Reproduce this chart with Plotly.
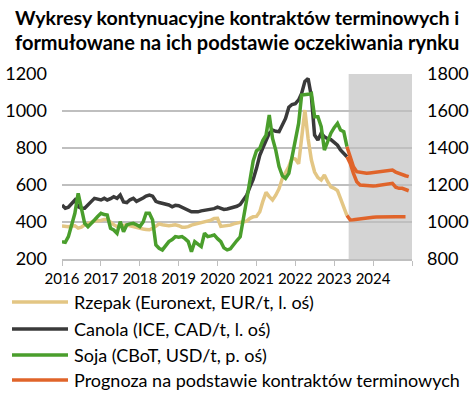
import pandas as pd
import plotly.graph_objects as go

# ---- data ----
hist_dates = pd.date_range("2016-01-01", "2023-05-01", freq="MS")
fc_dates = pd.date_range("2023-05-01", "2024-12-01", freq="MS")

rzepak = [
    378, 376, 375, 378, 380, 367, 372, 385, 390, 398, 405, 405,
    408, 414, 414, 400, 385, 376, 380, 385, 385, 380, 375, 368,
    367, 362, 360, 358, 365, 375, 390, 385, 382, 380, 382, 385,
    380, 372, 372, 375, 383, 388, 392, 395, 400, 404, 410, 419,
    420, 376, 378, 380, 383, 390, 392, 398, 401, 405, 420, 428,
    430, 456, 510, 560, 537, 519, 545, 580, 636, 670, 700, 745,
    740, 715, 870, 1005, 850, 735, 670, 640, 627, 654, 618, 590,
    582, 570, 528, 474, 435,
]
canola = [
    492, 474, 480, 501, 519, 483, 474, 474, 490, 510, 528, 522,
    519, 528, 519, 526, 537, 528, 546, 508, 505, 520, 528, 512,
    519, 530, 540, 546, 540, 512, 505, 500, 495, 492, 482, 490,
    488, 480, 470, 462, 455, 455, 455, 460, 462, 465, 470, 472,
    480, 475, 468, 470, 474, 478, 485, 495, 520, 545, 590, 630,
    690, 760, 800, 840, 880, 897, 890, 888, 925, 960, 1020, 1035,
    1040, 1060, 1095, 1160, 1176, 1077, 870, 843, 880, 860, 850, 845,
    830, 815, 790, 770, 753,
]
soja = [
    894, 890, 921, 990, 1047, 1155, 1083, 993, 975, 990, 1011, 1030,
    1047, 1040, 1038, 966, 957, 939, 1002, 948, 984, 990, 993, 985,
    975, 1000, 1047, 1047, 1011, 876, 858, 849, 870, 894, 905, 921,
    918, 921, 910, 894, 840, 894, 880, 867, 939, 921, 925, 930,
    910, 894, 860, 849, 855, 880, 900, 920, 1010, 1120, 1227, 1330,
    1385, 1398, 1440, 1470, 1578, 1452, 1389, 1300, 1250, 1236, 1263, 1353,
    1440, 1533, 1686, 1686, 1690, 1695, 1569, 1569, 1515, 1389, 1440, 1480,
    1510, 1533, 1497, 1488, 1407,
]
soja_fc = [1407, 1353, 1299, 1272, 1268, 1263, 1263, 1265, 1268, 1270,
           1272, 1275, 1277, 1280, 1281, 1270, 1262, 1255, 1250, 1245]
canola_fc = [753, 717, 663, 618, 600, 598, 596, 594, 594, 596,
             598, 600, 603, 606, 609, 588, 582, 582, 575, 569]
rzepak_fc = [435, 411, 412, 415, 418, 420, 422, 424, 426, 427,
             428, 429, 429, 429, 429, 429, 428, 428, 428]

year_ticks = [f"{y}-01-01" for y in range(2016, 2026)]
year_labels = [str(y) for y in range(2016, 2025)] + [""]
left_ticks = [200, 400, 600, 800, 1000, 1200]
right_ticks = [800, 1000, 1200, 1400, 1600, 1800]

title_lines = [
    "Wykresy kontynuacyjne kontraktów terminowych i",
    "formułowane na ich podstawie oczekiwania rynku",
]
names = [
    "Rzepak (Euronext, EUR/t, l. oś)",
    "Canola (ICE, CAD/t, l. oś)",
    "Soja (CBoT, USD/t, p. oś)",
    "Prognoza na podstawie kontraktów terminowych",
]
forecast_start = "2023-05-17"
x_end = "2025-01-01"

# ---- style ----
FONT = "Lato"
C_RZ = "#E3C684"
C_CA = "#3A3A3A"
C_SO = "#4A9E2C"
C_FC = "#E0642A"
LW = 3.5
W, H = 474, 393
L, R, T, B = 62, 62, 74, 134
PW, PH = W - L - R, H - T - B


def px_x(x):
    return (x - L) / PW


def px_y(y):
    return (H - B - y) / PH


fig = go.Figure()
fig.add_trace(go.Scatter(x=hist_dates, y=rzepak, mode="lines", name=names[0],
                         line=dict(color=C_RZ, width=LW)))
fig.add_trace(go.Scatter(x=hist_dates, y=canola, mode="lines", name=names[1],
                         line=dict(color=C_CA, width=LW)))
fig.add_trace(go.Scatter(x=hist_dates, y=soja, mode="lines", name=names[2],
                         yaxis="y2", line=dict(color=C_SO, width=LW)))
fig.add_trace(go.Scatter(x=fc_dates, y=soja_fc, mode="lines", name=names[3],
                         yaxis="y2", line=dict(color=C_FC, width=LW)))
fig.add_trace(go.Scatter(x=fc_dates, y=canola_fc, mode="lines", name=names[3],
                         line=dict(color=C_FC, width=LW)))
fig.add_trace(go.Scatter(x=fc_dates[:len(rzepak_fc)], y=rzepak_fc, mode="lines",
                         name=names[3], line=dict(color=C_FC, width=LW)))

fig.add_shape(type="rect", xref="x", yref="y", x0=forecast_start, x1=x_end,
              y0=200, y1=1200, fillcolor="#D4D4D4", line=dict(width=0),
              layer="below")

annotations = []
title_sizes = [19.6, 20]
for i, line in enumerate(title_lines):
    annotations.append(dict(
        text=f"<b>{line}</b>", xref="paper", yref="paper",
        x=px_x(W / 2), y=px_y(17 + 25 * i), xanchor="center", yanchor="middle",
        showarrow=False, font=dict(family=FONT, size=title_sizes[i], color="#000000"),
    ))

# legend drawn below the plot
legend_colors = [C_RZ, C_CA, C_SO, C_FC]
legend_y = [302, 329, 355, 380]
for name, col, ly in zip(names, legend_colors, legend_y):
    fig.add_shape(type="line", xref="paper", yref="paper",
                  x0=px_x(12), x1=px_x(68), y0=px_y(ly), y1=px_y(ly),
                  line=dict(color=col, width=LW))
    annotations.append(dict(
        text=name, xref="paper", yref="paper", x=px_x(72), y=px_y(ly),
        xanchor="left", yanchor="middle", showarrow=False,
        font=dict(family=FONT, size=18, color="#000000"),
    ))

fig.update_layout(
    width=W, height=H,
    margin=dict(l=L, r=R, t=T, b=B, autoexpand=False),
    paper_bgcolor="white", plot_bgcolor="white",
    font=dict(family=FONT, size=15, color="#000000"),
    showlegend=False,
    hovermode=False,
    annotations=annotations,
    xaxis=dict(
        type="date", range=["2016-01-01", x_end], automargin=False,
        tickvals=year_ticks, ticktext=year_labels,
        showgrid=False, ticks="outside", ticklen=5, tickcolor="#BFBFBF",
        showline=True, linecolor="#BFBFBF", linewidth=1.5,
        tickfont=dict(size=15), zeroline=False,
    ),
    yaxis=dict(
        range=[200, 1200], tickvals=left_ticks, automargin=False,
        showgrid=True, gridcolor="#BFBFBF", gridwidth=1.5,
        zeroline=False, showline=False, ticks="",
        tickfont=dict(size=18), ticklabelstandoff=14,
    ),
    yaxis2=dict(
        range=[800, 1800], tickvals=right_ticks, overlaying="y", side="right",
        automargin=False,
        showgrid=False, zeroline=False, showline=False, ticks="",
        tickfont=dict(size=18), ticklabelstandoff=14,
    ),
)

fig.write_html(
    "out.html",
    config={"displayModeBar": False},
    post_script="document.body.style.margin='0';document.body.style.overflow='hidden';",
)
